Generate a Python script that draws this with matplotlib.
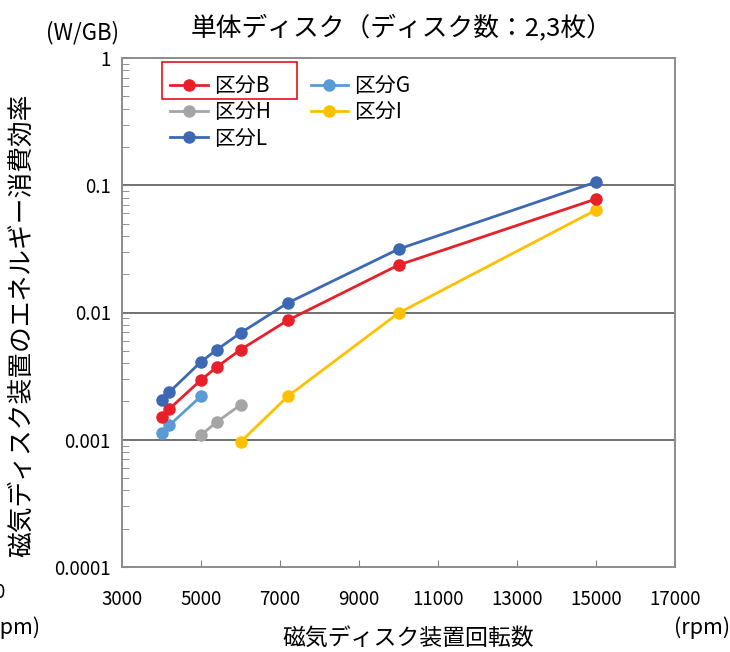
import matplotlib
matplotlib.use("Agg")
import matplotlib.pyplot as plt
from matplotlib.patches import Rectangle
from matplotlib.ticker import FixedLocator, LogLocator, NullFormatter

plt.rcParams['font.family'] = ['Noto Sans CJK JP', 'DejaVu Sans']

# data (rpm, W/GB)
rpm_b = [4000, 4200, 5000, 5400, 6000, 7200, 10000, 15000]
val_b = [0.00151, 0.00175, 0.00295, 0.00373, 0.0051, 0.0087, 0.0236, 0.078]
rpm_g = [4000, 4200, 5000]
val_g = [0.00113, 0.0013, 0.0022]
rpm_h = [5000, 5400, 6000]
val_h = [0.00109, 0.00138, 0.00188]
rpm_i = [6000, 7200, 10000, 15000]
val_i = [0.00096, 0.0022, 0.0099, 0.064]
rpm_l = [4000, 4200, 5000, 5400, 6000, 7200, 10000, 15000]
val_l = [0.00205, 0.00237, 0.0041, 0.0051, 0.0069, 0.0119, 0.0315, 0.106]

x_ticks = [3000, 5000, 7000, 9000, 11000, 13000, 15000, 17000]
y_ticks = [0.0001, 0.001, 0.01, 0.1, 1]
y_labels = ['0.0001', '0.001', '0.01', '0.1', '1']

fig = plt.figure(figsize=(7.3, 6.52), dpi=100)
ax = fig.add_axes([122/730, 1-567/652, (675-122)/730, (567-58)/652])

lw, ms = 2.0, 8
hb, = ax.plot(rpm_b, val_b, '-o', color='#E8202A', lw=lw, ms=ms, label='区分B', zorder=5)
hg, = ax.plot(rpm_g, val_g, '-o', color='#5B9BD5', lw=lw, ms=ms, label='区分G', zorder=4)
hh, = ax.plot(rpm_h, val_h, '-o', color='#A5A5A5', lw=lw, ms=ms, label='区分H', zorder=4)
hi, = ax.plot(rpm_i, val_i, '-o', color='#FFC000', lw=lw, ms=ms, label='区分I', zorder=4)
hl, = ax.plot(rpm_l, val_l, '-o', color='#3D68B4', lw=lw, ms=ms, label='区分L', zorder=5)

ax.set_yscale('log')
ax.set_xlim(3000, 17000)
ax.set_ylim(0.0001, 1)
ax.xaxis.set_major_locator(FixedLocator(x_ticks))
ax.set_xticklabels([str(t) for t in x_ticks], fontsize=13.5)
ax.yaxis.set_major_locator(FixedLocator(y_ticks))
ax.set_yticklabels(y_labels, fontsize=13.5)
ax.yaxis.set_minor_locator(LogLocator(base=10, subs=range(2, 10)))
ax.yaxis.set_minor_formatter(NullFormatter())
ax.tick_params(axis='x', direction='in', length=5, color='#808080', pad=16, top=False)
ax.tick_params(axis='y', which='both', direction='in', length=5, color='#808080', pad=8, right=False)

for y in [0.001, 0.01, 0.1]:
    ax.axhline(y, color='#707070', lw=1.4, zorder=1)
for s in ax.spines.values():
    s.set_color('#8c8c8c')
    s.set_linewidth(1.4)

leg = ax.legend(handles=[hb, hh, hl, hg, hi], ncol=2, frameon=False,
                loc='upper left', bbox_to_anchor=(162/730, 1-67/652),
                bbox_transform=fig.transFigure, fontsize=15,
                handlelength=1.8, handletextpad=0.3, columnspacing=1.9,
                labelspacing=0.2, borderaxespad=0)

fig.patches.append(Rectangle((162/730, 1-99/652), 135/730, 37/652, transform=fig.transFigure,
                             fill=False, edgecolor='#E0101A', lw=1.2))

fig.text(402/730, 1-28/652, '単体ディスク（ディスク数：2,3枚）', ha='center', va='center', fontsize=18.5)
fig.text(82/730, 1-33/652, '(W/GB)', ha='center', va='center', fontsize=16)
fig.text(22/730, 1-325/652, '磁気ディスク装置のエネルギー消費効率', rotation=90,
         ha='center', va='center', fontsize=18.5)
fig.text(408/730, 1-638/652, '磁気ディスク装置回転数', ha='center', va='center', fontsize=16.5)
fig.text(702/730, 1-628/652, '(rpm)', ha='center', va='center', fontsize=15.5)
# fragments cut off at the left edge of the screenshot
fig.text(-6/730, 1-592/652, '0', ha='left', va='center', fontsize=13.5)
fig.text(-16/730, 1-628/652, '(rpm)', ha='left', va='center', fontsize=15.5)

fig.savefig('out.png', dpi=100)
